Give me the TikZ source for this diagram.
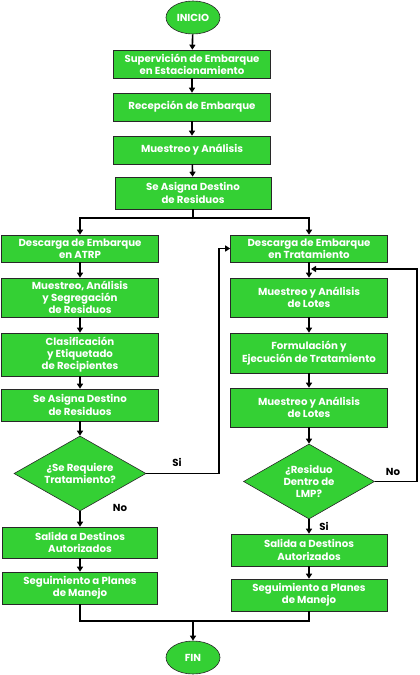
\documentclass[tikz,border=0pt]{standalone}
\usepackage{fontspec}
\setmainfont{Poppins}
\usepackage{tikz}
\usetikzlibrary{arrows.meta,shapes.geometric}
\definecolor{boxgreen}{RGB}{52,208,52}
\definecolor{boxline}{RGB}{40,40,40}
\tikzset{
	proc/.style={draw=boxline, line width=0.6pt, fill=boxgreen, text=white, font=\bfseries\fontsize{10.2}{12.3}\selectfont, align=center, minimum width=157pt, inner sep=1pt},
	term/.style={ellipse, draw=boxline, line width=0.6pt, fill=boxgreen, text=white, font=\bfseries\fontsize{10.2}{12.3}\selectfont, minimum width=54pt, minimum height=33pt, inner sep=0pt},
	deci/.style={diamond, draw=boxline, line width=0.6pt, fill=boxgreen, text=white, font=\bfseries\fontsize{10.2}{12.3}\selectfont, align=center, inner sep=-6pt},
	flow/.style={line width=1.6pt, -{Triangle[length=5pt,width=6pt]}},
	flowline/.style={line width=1.6pt},
	ans/.style={font=\bfseries\fontsize{10.2}{12}\selectfont, text=black}
}

\begin{document}
\begin{tikzpicture}[x=1pt, y=-1pt]
			%%%%% START %%%%%
			\useasboundingbox (0, 0) rectangle (420, 675);
			
			\node[term] (inicio) at (193, 17.5) {INICIO};
			\node[proc, minimum height=28pt] (sup) at (192, 64) {Supervición de Embarque\\en Estacionamiento};
			\node[proc, minimum height=28pt] (rec) at (192, 107) {Recepción de Embarque};
			\node[proc, minimum height=28pt] (mue) at (192, 150) {Muestreo y Análisis};
			\node[proc, minimum height=32pt, minimum width=156pt] (asig) at (193, 193) {Se Asigna Destino\\de Residuos};
			\coordinate (split) at (193, 218);
			
			% rama izquierda
			\node[proc, minimum height=27pt] (atrp) at (80, 248.5) {Descarga de Embarque\\en ATRP};
			\node[proc, minimum height=39pt] (segr) at (80, 297.5) {Muestreo, Análisis\\y Segregación\\de Residuos};
			\node[proc, minimum height=43pt] (clas) at (80, 354.5) {Clasificación\\y Etiquetado\\de Recipientes};
			\node[proc, minimum height=32pt] (asigb) at (80, 405) {Se Asigna Destino\\de Residuos};
			\node[deci, minimum width=132pt, minimum height=75pt] (req) at (80, 473.5) {¿Se Requiere\\Tratamiento?};
			\node[proc, minimum height=31pt, minimum width=155pt] (salA) at (80, 542.5) {Salida a Destinos\\Autorizados};
			\node[proc, minimum height=32pt, minimum width=155pt] (segA) at (80, 588) {Seguimiento a Planes\\de Manejo};
			\coordinate (siturn) at (219, 473.5);
			
			% rama derecha
			\node[proc, minimum height=27pt] (trat) at (309, 248.5) {Descarga de Embarque\\en Tratamiento};
			\coordinate (back) at (309, 269);
			\node[proc, minimum height=39pt] (lotA) at (309, 297.5) {Muestreo y Análisis\\de Lotes};
			\node[proc, minimum height=40pt] (form) at (309, 353) {Formulación y\\Ejecución de Tratamiento};
			\node[proc, minimum height=39pt] (lotB) at (309, 407.5) {Muestreo y Análisis\\de Lotes};
			\node[deci, minimum width=131pt, minimum height=75pt] (lmp) at (309, 481.5) {¿Residuo\\Dentro de\\LMP?};
			\node[proc, minimum height=32pt, minimum width=156pt] (salB) at (309, 550) {Salida a Destinos\\Autorizados};
			\node[proc, minimum height=32pt, minimum width=156pt] (segB) at (309, 595) {Seguimiento a Planes\\de Manejo};
			\coordinate (noturn) at (417, 481.5);
			
			\coordinate (merge) at (193, 621);
			\node[term] (fin) at (193, 657.5) {FIN};
			
			% conectores
			\draw[flow] (inicio) -- (sup);
			\draw[flow] (sup) -- (rec);
			\draw[flow] (rec) -- (mue);
			\draw[flow] (mue) -- (asig);
			\draw[flowline] (asig) -- (split);
			\draw[flow] (split) -| (atrp);
			\draw[flow] (split) -| (trat);
			
			\draw[flow] (atrp) -- (segr);
			\draw[flow] (segr) -- (clas);
			\draw[flow] (clas) -- (asigb);
			\draw[flow] (asigb) -- (req);
			\draw[flow] (req) -- (salA);
			\draw[flow] (salA) -- (segA);
			\draw[flow] (req.east) -- (siturn) |- (trat.west);
			\node[ans] (si1) at (177, 462) {Si};
			\node[ans] (no1) at (120, 508) {No};
			
			\draw[flow] (trat) -- (lotA);
			\draw[flow] (lotA) -- (form);
			\draw[flow] (form) -- (lotB);
			\draw[flow] (lotB) -- (lmp);
			\draw[flow] (lmp) -- (salB);
			\draw[flow] (salB) -- (segB);
			\draw[flow, shorten >=2pt] (lmp.east) -- (noturn) |- (back);
			\node[ans] (no2) at (393, 472) {No};
			\node[ans] (si2) at (324, 526) {Si};
			
			\draw[flowline] (segA) |- (merge) -| (segB);
			\draw[flow] (merge) -- (fin);
			
			%%%%% END %%%%%
\end{tikzpicture}
\end{document}
